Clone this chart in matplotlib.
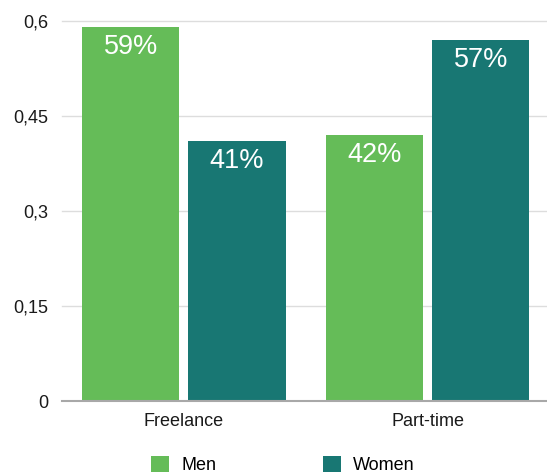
import numpy as np
import matplotlib
matplotlib.use("Agg")
import matplotlib.pyplot as plt

plt.rcParams["font.family"] = ["Liberation Sans", "DejaVu Sans"]

categories = ["Freelance", "Part-time"]
men = [0.59, 0.42]
women = [0.41, 0.57]
yticks = [0, 0.15, 0.3, 0.45, 0.6]
ytick_labels = ["0", "0,15", "0,3", "0,45", "0,6"]

GREEN = "#65bc58"
TEAL = "#187773"

fig = plt.figure(figsize=(5.47, 4.75), dpi=100)
ax = fig.add_axes([62 / 547, 74 / 475, 1 - 62 / 547, 380 / 475])

x = np.arange(len(categories))
w = 0.40
off = 0.218
b1 = ax.bar(x - off, men, w, color=GREEN, label="Men", zorder=2)
b2 = ax.bar(x + off, women, w, color=TEAL, label="Women", zorder=2)

# percentage labels just inside the top of each bar
for bars, vals in ((b1, men), (b2, women)):
    for rect, v in zip(bars, vals):
        ax.annotate(f"{v * 100:.0f}%", (rect.get_x() + rect.get_width() / 2, v),
                    xytext=(0, -14.5), textcoords="offset points",
                    ha="center", va="center", color="white", fontsize=19.5)

ax.set_xlim(-0.5, 1.49)
ax.set_ylim(0, 0.6)
ax.set_yticks(yticks)
ax.set_yticklabels(ytick_labels)
ax.set_xticks(x)
ax.set_xticklabels(categories)
ax.tick_params(axis="both", length=0, labelsize=13, colors="#1a1a1a")
ax.tick_params(axis="y", pad=10)
ax.tick_params(axis="x", pad=9)

for s in ax.spines.values():
    s.set_visible(False)
for t in yticks[1:]:
    ax.axhline(t, color="#dddddd", lw=1.0, zorder=1, clip_on=False)
ax.axhline(0, color="#a8a8a8", lw=1.5, zorder=3, clip_on=False)

fig.legend(handles=[b1, b2], labels=["Men", "Women"], loc="center",
           bbox_to_anchor=(0.517, 0.021), ncol=2, frameon=False,
           fontsize=13, handlelength=1.0, handleheight=1.0,
           handletextpad=0.65, columnspacing=5.9, borderpad=0)

fig.savefig("out.png", dpi=100)
